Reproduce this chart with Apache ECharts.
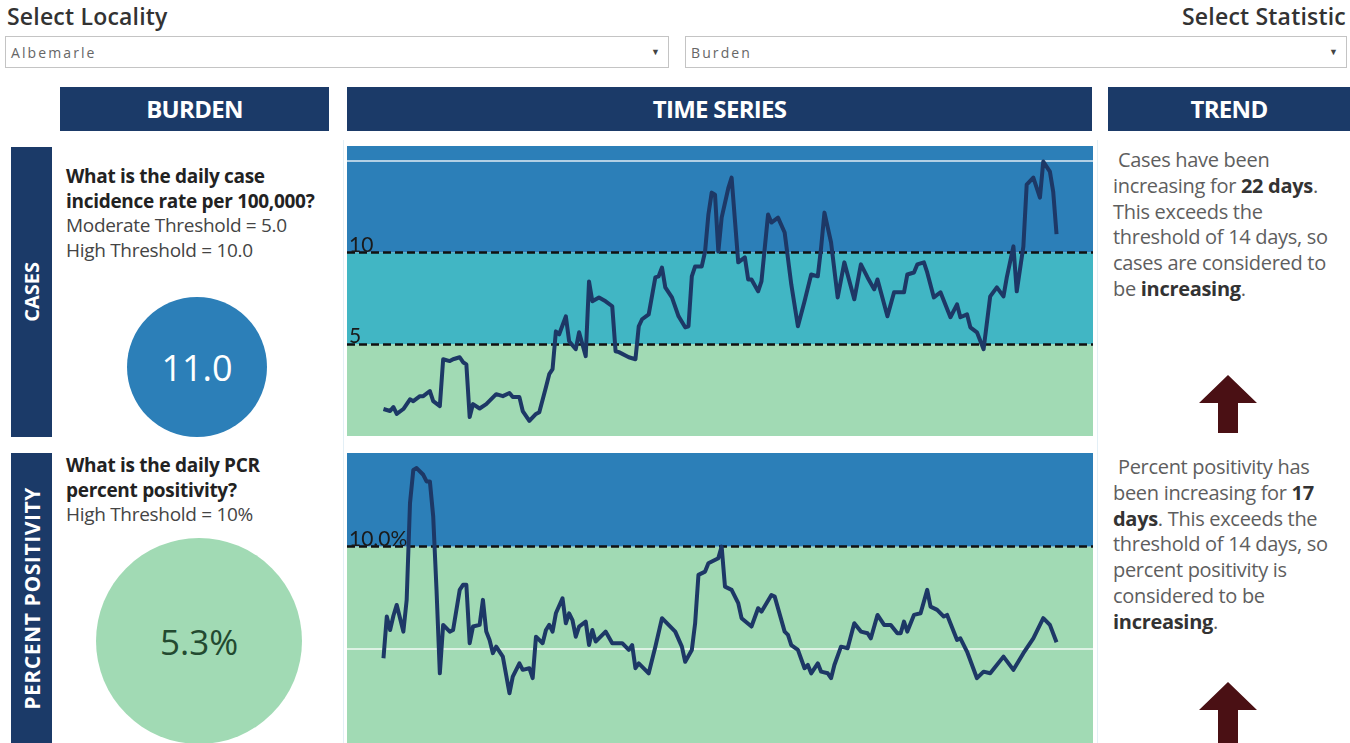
<!DOCTYPE html>
<html>
<head>
<meta charset="utf-8">
<script src="https://cdn.jsdelivr.net/npm/echarts@6/dist/echarts.min.js"></script>
<style>
html,body{margin:0;padding:0;width:1350px;height:743px;overflow:hidden;background:#fff;font-family:'Open Sans',Lato,sans-serif;}
.abs{position:absolute;}
.lbl{font-family:'Open Sans',sans-serif;font-weight:600;font-size:23px;color:#333;letter-spacing:0.2px;}
.dd{border:1px solid #c4c4c4;background:#fff;height:32px;box-sizing:border-box;}
.dd span.t{position:absolute;left:5px;top:6px;font-family:'Open Sans',sans-serif;font-size:14px;color:#666;letter-spacing:2.1px;}
.dd span.a{position:absolute;right:8px;top:8px;font-size:9px;color:#444;}
.hdr{background:#1b3a68;color:#fff;font-family:'Open Sans',sans-serif;font-weight:700;font-size:24px;text-align:center;line-height:44px;height:44px;letter-spacing:-0.7px;}
.side{background:#1b3a68;color:#fff;font-family:'Open Sans',sans-serif;font-weight:700;display:flex;align-items:center;justify-content:center;}
.side div{writing-mode:vertical-rl;transform:rotate(180deg);white-space:nowrap;}
.q{font-size:19px;line-height:24.5px;color:#444;letter-spacing:-0.3px;}
.q b{color:#222;}
.tr{font-size:20px;line-height:25.8px;color:#5e5e5e;letter-spacing:-0.3px;}
.tr b{color:#333;}
.circ{border-radius:50%;display:flex;align-items:center;justify-content:center;font-family:'Open Sans',sans-serif;}
</style>
</head>
<body>
<div class="abs lbl" style="left:7px;top:0px;">Select Locality</div>
<div class="abs lbl" style="right:4px;top:0px;">Select Statistic</div>
<div class="abs dd" style="left:5px;top:36px;width:664px;"><span class="t">Albemarle</span><span class="a">&#9660;</span></div>
<div class="abs dd" style="left:685px;top:36px;width:662px;"><span class="t">Burden</span><span class="a">&#9660;</span></div>

<div class="abs hdr" style="left:60px;top:87px;width:269px;">BURDEN</div>
<div class="abs hdr" style="left:347px;top:87px;width:745px;">TIME SERIES</div>
<div class="abs hdr" style="left:1108px;top:87px;width:242px;">TREND</div>

<div class="abs side" style="left:11px;top:147px;width:41px;height:290px;font-size:20px;"><div>CASES</div></div>
<div class="abs side" style="left:11px;top:453px;width:41px;height:290px;font-size:21px;letter-spacing:0.6px;"><div>PERCENT POSITIVITY</div></div>

<div class="abs" style="left:343px;top:140px;width:1px;height:603px;background:#e3eff6;"></div>
<div class="abs" style="left:1097px;top:140px;width:1px;height:603px;background:#e3eff6;"></div>

<div class="abs q" style="left:66px;top:164px;"><b>What is the daily case<br>incidence rate per 100,000?</b><br>Moderate Threshold = 5.0<br>High Threshold = 10.0</div>
<div class="abs q" style="left:66px;top:453px;"><b>What is the daily PCR<br>percent positivity?</b><br>High Threshold = 10%</div>

<div class="abs circ" style="left:127px;top:297px;width:140px;height:140px;background:#2c7fb8;color:#fff;font-size:36px;">11.0</div>
<div class="abs circ" style="left:96px;top:538px;width:206px;height:206px;background:#a1dab4;color:#234a30;font-size:35px;">5.3%</div>

<div class="abs tr" style="left:1113px;top:147px;">&nbsp;Cases have been<br>increasing for <b>22 days</b>.<br>This exceeds the<br>threshold of 14 days, so<br>cases are considered to<br>be <b>increasing</b>.</div>
<div class="abs tr" style="left:1113px;top:454px;">&nbsp;Percent positivity has<br>been increasing for <b>17</b><br><b>days</b>. This exceeds the<br>threshold of 14 days, so<br>percent positivity is<br>considered to be<br><b>increasing</b>.</div>

<svg class="abs" style="left:1198px;top:375px;" width="60" height="60" viewBox="0 0 60 60"><path d="M30 0 L59 28 L40 28 L40 58 L20 58 L20 28 L1 28 Z" fill="#4a1014"/></svg>
<svg class="abs" style="left:1198px;top:682px;" width="60" height="70" viewBox="0 0 60 70"><path d="M30 0 L59 28 L40 28 L40 70 L20 70 L20 28 L1 28 Z" fill="#4a1014"/></svg>

<div id="c1" class="abs" style="left:347px;top:146px;width:746px;height:290px;"></div>
<div id="c2" class="abs" style="left:347px;top:453px;width:746px;height:297px;"></div>

<script>
// ---- Data (day index along the series, daily value) ----
const caseDays = [11,13,14,15,17,19,20,22,23,25,26,28,29,31,32,34,35,36,37,38,40,42,45,47,49,50,52,53,55,57,58,60,61,62,63,64,66,67,69,70,71,72,73,74,76,78,80,81,82,85,87,88,89,91,93,94,95,96,98,100,102,103,104,105,107,108,109,110,111,112,113,115,116,118,120,121,122,124,125,127,128,130,132,134,136,138,140,142,143,144,146,148,150,153,155,157,159,160,163,165,168,169,171,172,174,175,177,179,182,184,185,187,188,190,192,194,196,198,199,201,202,204,205,207,209,210,212,213,214];
const caseValues = [1.47,1.36,1.58,1.2,1.47,2.0,1.9,2.17,2.17,2.45,1.9,1.63,4.18,4.08,4.18,4.29,4.02,3.9,1.03,1.74,1.5,1.74,2.28,2.17,2.34,2.12,2.12,1.36,0.82,1.2,1.3,2.66,3.37,3.64,5.7,5.54,6.52,5.16,4.73,5.65,5.0,4.35,8.42,7.34,7.55,7.34,7.07,4.62,4.57,4.29,4.18,5.98,6.36,6.63,8.64,8.7,9.18,8.1,7.55,6.52,5.92,5.98,8.7,9.24,9.24,10.05,12.07,13.26,13.15,10.05,11.9,13.5,14.08,9.46,9.73,8.53,8.53,7.88,8.42,12.07,11.63,11.9,11.09,8.26,5.98,7.34,8.8,8.7,10.27,12.17,10.54,7.55,9.46,7.45,9.35,8.64,7.99,8.53,6.52,7.83,7.83,8.8,8.91,9.35,9.46,8.91,7.55,7.83,6.47,7.17,6.47,6.63,5.92,5.65,4.73,7.61,8.1,7.61,8.64,10.33,7.88,10.33,13.7,14.08,12.99,14.95,14.4,13.3,11.0];

const posDays = [11,12,13,14,15,17,18,19,20,21,23,24,25,26,27,28,29,31,32,34,35,36,37,38,40,41,42,43,44,45,47,49,50,52,53,55,56,57,59,60,61,62,63,65,66,67,68,69,70,72,73,74,75,78,80,83,85,86,87,88,91,93,95,97,99,101,102,104,105,106,108,109,112,113,114,116,118,119,122,124,125,128,129,132,133,134,136,138,139,140,142,143,145,146,147,149,151,153,155,157,158,160,162,164,166,167,168,169,171,173,175,176,178,180,181,184,185,187,190,192,194,198,201,204,207,208,210,212,214];
const posValues = [4.51,6.56,5.9,6.6,7.13,5.82,7.38,12.13,13.77,13.86,13.53,13.2,13.2,11.48,7.87,3.77,6.15,5.82,5.9,7.87,8.12,8.12,5.25,6.07,6.15,7.38,5.82,5.41,4.76,5.08,4.59,2.79,3.61,4.26,3.94,4.02,3.53,5.57,5.25,5.9,6.15,5.82,6.72,7.46,6.23,6.72,6.39,5.57,6.07,6.31,5.16,5.9,5.33,5.82,5.25,5.25,4.92,5.16,4.02,4.26,3.77,5.08,6.48,6.15,5.82,5.08,4.34,4.92,6.23,8.61,8.77,9.18,9.43,10.0,8.03,7.87,7.22,6.48,6.07,6.97,6.8,7.62,7.54,5.82,5.66,5.16,4.92,4.02,4.18,3.77,4.26,3.85,3.77,3.53,4.18,5.08,5.0,6.23,5.82,5.74,5.49,6.64,6.15,6.15,5.74,5.74,6.31,5.82,6.64,6.72,7.87,7.05,6.89,6.56,6.64,5.41,5.49,4.84,3.53,3.85,3.77,4.59,3.94,4.76,5.49,5.82,6.48,6.15,5.3];

const caseThresholds = [5, 10];
const caseThresholdLabels = ['5', '10'];
const caseGridLines = [15];
const posThresholds = [10];
const posThresholdLabels = ['10.0%'];
const posGridLines = [5];

const BAND_GREEN = '#a1dab4', BAND_TEAL = '#41b6c4', BAND_BLUE = '#2c7fb8';
const LINE = '#1d3866';

function zip(a, b) { return a.map((d, i) => [d, b[i]]); }

function makeOption(days, values, yMax, bands, thresholds, labels, gridLines) {
  const markLines = [];
  gridLines.forEach(v => markLines.push({ yAxis: v, lineStyle: { color: 'rgba(255,255,255,0.85)', type: 'solid', width: 1.5 }, label: { show: false } }));
  thresholds.forEach((v, i) => markLines.push({
    yAxis: v,
    lineStyle: { color: '#111', type: [8, 4], width: 2.5 },
    label: { show: true, position: 'insideStartTop', formatter: labels[i], color: '#1a1a1a', fontSize: 21, fontFamily: 'Lato', distance: [2, -3] }
  }));
  return {
    animation: false,
    grid: { left: 0, right: 0, top: 0, bottom: 0 },
    xAxis: { type: 'value', min: 0, max: 225, show: false },
    yAxis: { type: 'value', min: 0, max: yMax, show: false, splitLine: { show: false } },
    series: [{
      type: 'line',
      data: zip(days, values),
      showSymbol: false,
      symbol: 'none',
      z: 5,
      lineStyle: { color: LINE, width: 4, join: 'round' },
      markArea: {
        silent: true,
        data: bands.map(b => [{ yAxis: b[0], itemStyle: { color: b[2], opacity: 1 } }, { yAxis: b[1] }])
      },
      markLine: { silent: true, symbol: 'none', data: markLines }
    }]
  };
}

const caseMax = 15.8, posMax = 14.6;
const c1 = echarts.init(document.getElementById('c1'));
c1.setOption(makeOption(caseDays, caseValues, caseMax,
  [[0, caseThresholds[0], BAND_GREEN], [caseThresholds[0], caseThresholds[1], BAND_TEAL], [caseThresholds[1], caseMax, BAND_BLUE]],
  caseThresholds, caseThresholdLabels, caseGridLines));
const c2 = echarts.init(document.getElementById('c2'));
c2.setOption(makeOption(posDays, posValues, posMax,
  [[0, posThresholds[0], BAND_GREEN], [posThresholds[0], posMax, BAND_BLUE]],
  posThresholds, posThresholdLabels, posGridLines));
</script>
</body>
</html>
